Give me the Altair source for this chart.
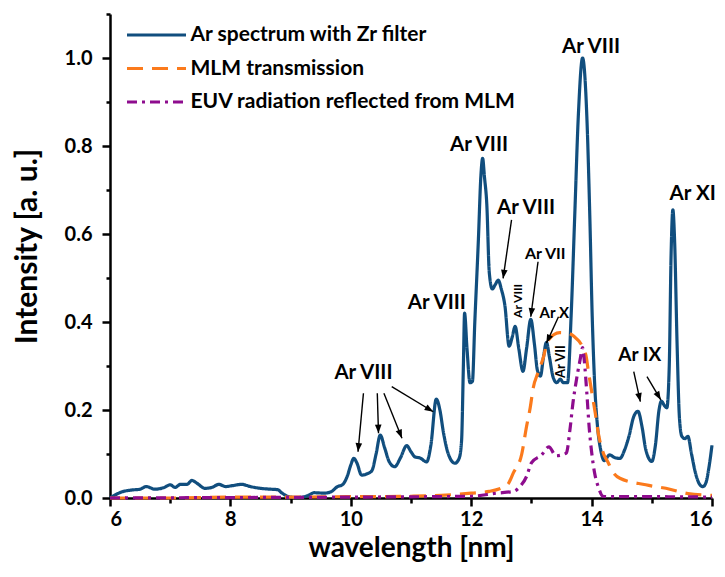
import math
import altair as alt
import pandas as pd

# ---------------- data ----------------
blue_x = [6.00, 6.10, 6.20, 6.35, 6.50, 6.60, 6.75, 6.90, 7.00, 7.08, 7.17, 7.28, 7.36, 7.44,
          7.58, 7.69, 7.81, 7.92, 8.03, 8.19, 8.33, 8.50, 8.67, 8.78, 8.86, 8.97, 9.10, 9.20,
          9.31, 9.39, 9.56, 9.67, 9.78, 9.86, 9.94, 10.00, 10.05, 10.10, 10.18, 10.27, 10.35,
          10.42, 10.49, 10.56, 10.64, 10.73, 10.82, 10.93, 11.00, 11.07, 11.15, 11.26, 11.33,
          11.42, 11.48, 11.54, 11.62, 11.73, 11.80, 11.84, 11.87, 11.89, 11.93, 11.98, 12.02,
          12.06, 12.12, 12.16, 12.19, 12.22, 12.26, 12.30, 12.35, 12.40, 12.45, 12.50, 12.56,
          12.63, 12.68, 12.73, 12.79, 12.86, 12.92, 12.99, 13.05, 13.10, 13.15, 13.20, 13.25,
          13.30, 13.36, 13.42, 13.48, 13.53, 13.60, 13.66, 13.72, 13.78, 13.85, 13.92, 13.97,
          14.01, 14.05, 14.10, 14.15, 14.21, 14.30, 14.38, 14.47, 14.55, 14.62, 14.70, 14.77,
          14.84, 14.90, 15.00, 15.06, 15.12, 15.16, 15.21, 15.25, 15.29, 15.32, 15.35, 15.38,
          15.42, 15.46, 15.50, 15.55, 15.60, 15.66, 15.72, 15.80, 15.85, 15.90, 15.95, 16.00]
blue_y = [0.000, 0.008, 0.014, 0.018, 0.020, 0.026, 0.020, 0.024, 0.030, 0.024, 0.031, 0.031,
          0.040, 0.034, 0.022, 0.024, 0.031, 0.026, 0.028, 0.031, 0.026, 0.022, 0.020, 0.019,
          0.011, 0.003, 0.001, 0.002, 0.007, 0.012, 0.011, 0.014, 0.026, 0.030, 0.049, 0.075,
          0.090, 0.080, 0.052, 0.055, 0.062, 0.100, 0.143, 0.115, 0.082, 0.071, 0.090, 0.119,
          0.105, 0.093, 0.091, 0.082, 0.120, 0.225, 0.200, 0.148, 0.100, 0.079, 0.090, 0.130,
          0.300, 0.420, 0.340, 0.262, 0.265, 0.400, 0.589, 0.730, 0.772, 0.730, 0.665, 0.513,
          0.475, 0.485, 0.495, 0.475, 0.437, 0.345, 0.365, 0.390, 0.340, 0.288, 0.340, 0.406,
          0.350, 0.290, 0.277, 0.320, 0.354, 0.320, 0.275, 0.262, 0.270, 0.262, 0.262, 0.414,
          0.642, 0.870, 1.000, 0.870, 0.642, 0.414, 0.262, 0.160, 0.110, 0.085, 0.098, 0.092,
          0.090, 0.110, 0.140, 0.185, 0.197, 0.160, 0.110, 0.083, 0.120, 0.200, 0.220, 0.210,
          0.205, 0.300, 0.550, 0.655, 0.580, 0.350, 0.180, 0.140, 0.135, 0.140, 0.100, 0.060,
          0.030, 0.026, 0.035, 0.070, 0.120]

orange_x = [6.0, 7.0, 8.0, 9.0, 10.0, 10.5, 11.0, 11.5, 12.0, 12.3, 12.6, 12.7, 12.84, 12.92,
            12.98, 13.03, 13.11, 13.2, 13.27, 13.47, 13.6, 13.7, 13.9, 13.95, 14.0, 14.06, 14.11,
            14.2, 14.27, 14.35, 14.47, 14.9, 15.3, 15.6, 16.0]
orange_y = [0.0, 0.0, 0.002, 0.002, 0.003, 0.003, 0.004, 0.006, 0.011, 0.015, 0.03, 0.057, 0.1,
            0.163, 0.205, 0.25, 0.285, 0.32, 0.357, 0.376, 0.375, 0.368, 0.327, 0.285, 0.243,
            0.194, 0.148, 0.1, 0.082, 0.06, 0.045, 0.03, 0.02, 0.01, 0.006]

purple_x = [6.0, 8.0, 10.0, 12.0, 12.42, 12.7, 12.81, 12.92, 13.0, 13.17, 13.29, 13.41, 13.58,
            13.64, 13.69, 13.75, 13.81, 13.85, 13.88, 13.92, 13.96, 14.0, 14.05, 14.11, 14.19,
            14.35, 15.0, 16.0]
purple_y = [0.0, 0.001, 0.002, 0.004, 0.011, 0.015, 0.026, 0.049, 0.08, 0.098, 0.116, 0.096,
            0.102, 0.155, 0.216, 0.27, 0.315, 0.342, 0.31, 0.24, 0.16, 0.105, 0.057, 0.026,
            0.004, 0.003, 0.003, 0.002]

series_names = ["Ar spectrum with Zr filter", "MLM transmission", "EUV radiation reflected from MLM"]
series_colors = ["#114e7e", "#fb7a1c", "#8e0c8e"]
series_dash = [[1, 0], [16, 9], [10, 5, 3, 5]]

label_text = ["Ar VIII", "Ar VIII", "Ar VIII", "Ar VII", "Ar VIII", "Ar X", "Ar VII",
              "Ar VIII", "Ar VIII", "Ar IX", "Ar XI"]
label_x = [13.99, 12.13, 12.91, 13.23, 12.77, 13.38, 13.49, 11.43, 10.21, 14.80, 15.68]
label_y = [1.025, 0.802, 0.658, 0.555, 0.448, 0.421, 0.310, 0.444, 0.285, 0.325, 0.691]
label_size = [20.5, 20.5, 20.5, 16, 12, 15, 13, 20.5, 20.5, 19, 20.5]
label_angle = [0, 0, 0, 0, 270, 0, 270, 0, 0, 0, 0]

arrow_x1 = [10.21, 10.44, 10.55, 10.68, 12.67, 13.11, 13.45, 14.70, 14.92]
arrow_y1 = [0.238, 0.238, 0.238, 0.253, 0.632, 0.537, 0.412, 0.287, 0.276]
arrow_x2 = [10.12, 10.46, 10.85, 11.37, 12.53, 12.99, 13.25, 14.81, 15.15]
arrow_y2 = [0.105, 0.147, 0.136, 0.196, 0.499, 0.412, 0.352, 0.219, 0.223]

x_ticks = [6, 7, 8, 9, 10, 11, 12, 13, 14, 15, 16]
y_ticks = [0.0, 0.1, 0.2, 0.3, 0.4, 0.5, 0.6, 0.7, 0.8, 0.9, 1.0, 1.1]

# ---------------- build tables ----------------
W, H = 602, 484
XD, YD = [6, 16], [0, 1.1]

rows = []
for name, xs, ys in zip(series_names, [blue_x, orange_x, purple_x], [blue_y, orange_y, purple_y]):
    for i, (a, b) in enumerate(zip(xs, ys)):
        rows.append({"series": name, "wl": a, "I": b, "o": i})
lines_df = pd.DataFrame(rows)

labels_df = pd.DataFrame({"t": label_text, "x": label_x, "y": label_y,
                          "fs": label_size, "ang": label_angle})

ang = []
for a, b, c, d in zip(arrow_x1, arrow_y1, arrow_x2, arrow_y2):
    dx = (c - a) * W / (XD[1] - XD[0])
    dy = -(d - b) * H / (YD[1] - YD[0])
    ang.append(math.degrees(math.atan2(dx, -dy)) % 360)
arrows_df = pd.DataFrame({"x1": arrow_x1, "y1": arrow_y1, "x2": arrow_x2, "y2": arrow_y2, "ang": ang})

FONT = "Lato"

xscale = alt.Scale(domain=XD, nice=False, zero=False)
yscale = alt.Scale(domain=YD, nice=False)

xaxis = alt.Axis(values=x_ticks, title="wavelength [nm]",
                 labelExpr="datum.value % 2 == 0 ? format(datum.value, 'd') : ''",
                 tickSize={"expr": "datum.value % 2 == 0 ? 8 : 5"},
                 labelPadding=3, titlePadding=5, titleFontSize=28)
yaxis = alt.Axis(values=y_ticks, title="Intensity [a. u.]",
                 labelExpr="round(datum.value * 10) % 2 == 0 ? format(datum.value, '.1f') : ''",
                 tickSize={"expr": "round(datum.value * 10) % 2 == 0 ? 8 : 4"},
                 labelPadding=10, titlePadding=22, titleFontSize=30, titleY=232)

lines = alt.Chart(lines_df).mark_line(strokeWidth=3.2, interpolate="monotone").encode(
    x=alt.X("wl:Q", scale=xscale, axis=xaxis),
    y=alt.Y("I:Q", scale=yscale, axis=yaxis),
    color=alt.Color("series:N", sort=series_names,
                    scale=alt.Scale(domain=series_names, range=series_colors),
                    legend=alt.Legend(title=None, orient="none", legendX=15, legendY=9,
                                      symbolType="M-2.95,0H2.95", symbolSize=400,
                                      symbolStrokeWidth=3.2, symbolOffset=19.5,
                                      labelOffset=22, rowPadding=11.5, padding=0,
                                      labelFont=FONT, labelFontSize=21, labelFontWeight="bold",
                                      labelColor="black", labelLimit=500)),
    strokeDash=alt.StrokeDash("series:N", sort=series_names,
                              scale=alt.Scale(domain=series_names, range=series_dash),
                              legend=None),
    order="o:Q",
)

texts = alt.Chart(labels_df).mark_text(font=FONT, fontWeight="bold", color="black").encode(
    x=alt.X("x:Q", scale=xscale),
    y=alt.Y("y:Q", scale=yscale),
    text="t:N",
    size=alt.Size("fs:Q", scale=None),
    angle=alt.Angle("ang:Q", scale=None),
)

rules = alt.Chart(arrows_df).mark_rule(color="black", strokeWidth=1.4).encode(
    x=alt.X("x1:Q", scale=xscale), y=alt.Y("y1:Q", scale=yscale),
    x2="x2:Q", y2="y2:Q",
)

heads = alt.Chart(arrows_df).mark_point(shape="M0,0L-0.38,1L0.38,1Z", filled=True,
                                        color="black", opacity=1, size=300, strokeWidth=0).encode(
    x=alt.X("x2:Q", scale=xscale), y=alt.Y("y2:Q", scale=yscale),
    angle=alt.Angle("ang:Q", scale=None),
)

chart = alt.layer(lines, rules, heads, texts).properties(
    width=W, height=H, autosize="none",
    padding={"left": 102, "top": 6, "right": 5, "bottom": 70},
).configure_view(stroke=None).configure_axis(
    grid=False, domainColor="black", domainWidth=2.5, tickColor="black", tickWidth=2.5,
    labelFont=FONT, labelFontSize=20, labelFontWeight="bold", labelColor="black",
    titleFont=FONT, titleFontWeight="bold", titleColor="black",
)

chart.save("out.html", embed_options={"renderer": "svg", "actions": False})
